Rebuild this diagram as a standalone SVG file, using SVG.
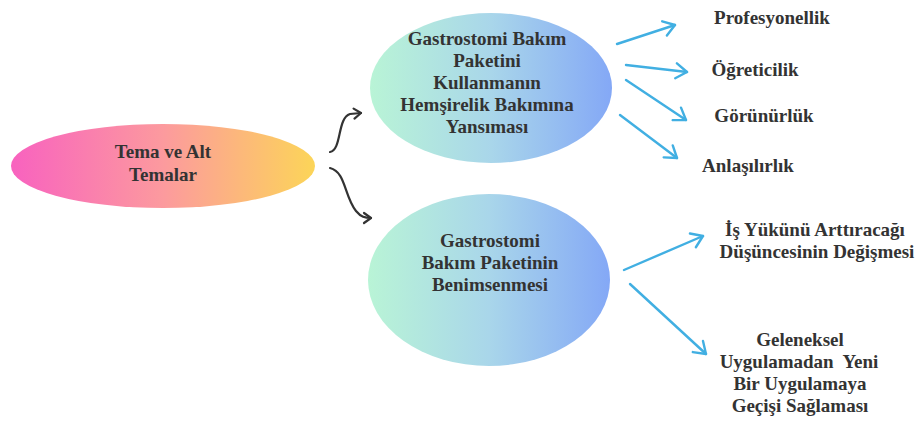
<svg xmlns="http://www.w3.org/2000/svg" width="917" height="421" viewBox="0 0 917 421">
  <defs>
    <linearGradient id="gradTheme" x1="0" y1="0" x2="1" y2="0">
      <stop offset="0" stop-color="#f862bf"/>
      <stop offset="0.5" stop-color="#fc9a9e"/>
      <stop offset="1" stop-color="#fcd558"/>
    </linearGradient>
    <linearGradient id="gradSub" x1="0" y1="0" x2="1" y2="0">
      <stop offset="0" stop-color="#b9f4d6"/>
      <stop offset="0.5" stop-color="#a9d6ea"/>
      <stop offset="1" stop-color="#84a8f6"/>
    </linearGradient>
    <marker id="headBlue" viewBox="-13 -9 15 18" refX="0" refY="0" markerWidth="15" markerHeight="18" markerUnits="userSpaceOnUse" orient="auto">
      <path d="M-11,-7.5 L0,0 L-11,7.5" fill="none" stroke="#41afe2" stroke-width="2.4" stroke-linecap="round" stroke-linejoin="round"/>
    </marker>
    <marker id="headDark" viewBox="-10 -7 12 14" refX="0" refY="0" markerWidth="12" markerHeight="14" markerUnits="userSpaceOnUse" orient="auto">
      <path d="M-7,-5 L0,0 L-7,5" fill="none" stroke="#333" stroke-width="2.2" stroke-linecap="round" stroke-linejoin="round"/>
    </marker>
  </defs>
  <style>
    .lbl { font-weight: bold; font-size: 19px; fill: #333; text-anchor: middle; }
    .blue { fill: none; stroke: #41afe2; stroke-width: 2.4; stroke-linecap: round; marker-end: url(#headBlue); }
    .dark { fill: none; stroke: #333; stroke-width: 2.2; stroke-linecap: round; marker-end: url(#headDark); }
  </style>

  <rect width="917" height="421" fill="#ffffff"/>

  <g id="connectors">
    <path class="dark" d="M330,152 C342,150 337,118 350,114 L361,113"/>
    <path class="dark" d="M330,168 C346,172 344,196 356,211 C361,217 365,218 371,218"/>
    <path class="blue" d="M617,44 L675,25"/>
    <path class="blue" d="M626,65 L687,72"/>
    <path class="blue" d="M626,80 L686,120"/>
    <path class="blue" d="M620,115 L677,158"/>
    <path class="blue" d="M624,270 L703,236"/>
    <path class="blue" d="M630,284 L706,354"/>
  </g>

  <g font-family="Liberation Serif, Times New Roman, DejaVu Serif, serif">
    <g id="theme">
      <ellipse cx="163" cy="166" rx="152" ry="42" fill="url(#gradTheme)"/>
      <text class="lbl" x="163" y="158">Tema ve Alt</text>
      <text class="lbl" x="163" y="181">Temalar</text>
    </g>

    <g id="reflection">
      <ellipse cx="491" cy="88" rx="121" ry="75" fill="url(#gradSub)"/>
      <text class="lbl" x="487" y="45">Gastrostomi Bakım</text>
      <text class="lbl" x="487" y="67">Paketini</text>
      <text class="lbl" x="487" y="89">Kullanmanın</text>
      <text class="lbl" x="487" y="111">Hemşirelik Bakımına</text>
      <text class="lbl" x="487" y="133">Yansıması</text>
    </g>

    <g id="adoption">
      <ellipse cx="489" cy="280" rx="121" ry="86" fill="url(#gradSub)"/>
      <text class="lbl" x="490" y="247">Gastrostomi</text>
      <text class="lbl" x="490" y="269">Bakım Paketinin</text>
      <text class="lbl" x="490" y="291">Benimsenmesi</text>
    </g>

    <g id="professionalism"><text class="lbl" x="772" y="24">Profesyonellik</text></g>
    <g id="instructiveness"><text class="lbl" x="755" y="76">Öğreticilik</text></g>
    <g id="visibility"><text class="lbl" x="764" y="122">Görünürlük</text></g>
    <g id="comprehensibility"><text class="lbl" x="748" y="172">Anlaşılırlık</text></g>

    <g id="workload">
      <text class="lbl" x="815" y="236">İş Yükünü Arttıracağı</text>
      <text class="lbl" x="817" y="258">Düşüncesinin Değişmesi</text>
    </g>

    <g id="transition">
      <text class="lbl" x="800" y="346">Geleneksel</text>
      <text class="lbl" x="799" y="368" xml:space="preserve">Uygulamadan  Yeni</text>
      <text class="lbl" x="800" y="390">Bir Uygulamaya</text>
      <text class="lbl" x="800" y="412">Geçişi Sağlaması</text>
    </g>
  </g>
</svg>
